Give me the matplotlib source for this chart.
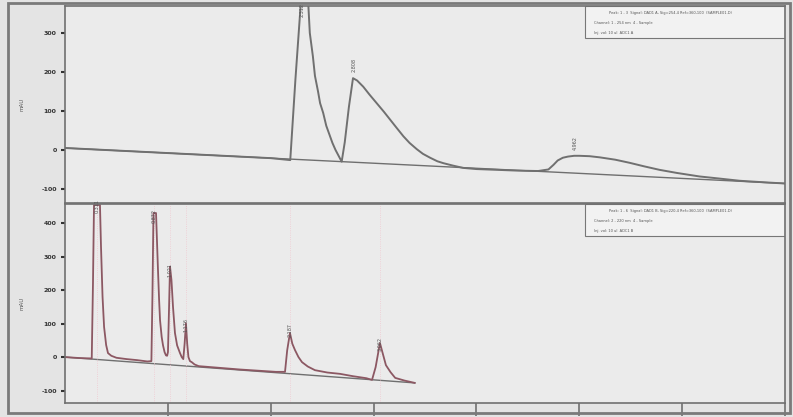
import matplotlib
matplotlib.use("Agg")
import matplotlib.pyplot as plt
from matplotlib.patches import Rectangle

# upper detector trace (time min, signal)
top_t = [0.0, 1.0, 2.0, 2.19, 2.24, 2.29, 2.33, 2.36, 2.38, 2.41, 2.43, 2.46, 2.48, 2.51,
         2.54, 2.57, 2.6, 2.63, 2.66, 2.69, 2.72, 2.76, 2.8, 2.84, 2.9, 2.96, 3.03,
         3.1, 3.16, 3.22, 3.29, 3.35, 3.42, 3.48, 3.55, 3.62, 3.68, 3.77, 3.87, 4.0,
         4.2, 4.4, 4.6, 4.7, 4.75, 4.79, 4.84, 4.89, 4.95, 5.0, 5.1, 5.2, 5.35, 5.49,
         5.63, 5.78, 5.95, 6.17, 6.35, 6.56, 6.8, 7.0]
top_y = [5, -8, -21, -26, 180, 367, 420, 400, 300, 240, 190, 150, 120, 95,
         62, 40, 18, 0, -15, -30, 20, 110, 184, 178, 162, 142, 120,
         98, 78, 58, 35, 18, 2, -10, -20, -29, -34, -40, -46, -49,
         -51, -53, -54, -50, -38, -27, -20, -17, -15, -15, -16, -19, -25, -33,
         -42, -51, -59, -68, -73, -79, -83, -86]
top_base_t = [0.0, 7.0]
top_base_y = [5, -86]
top_peaks = [2.31, 2.81, 4.96]
top_peak_lbl = ["2.312", "2.808", "4.962"]
top_peak_y = [340, 200, 0]

# lower detector trace
bot_t = [0.0, 0.15, 0.26, 0.272, 0.282, 0.34, 0.35, 0.365, 0.38, 0.4, 0.418, 0.45, 0.5,
         0.6, 0.7, 0.8, 0.84, 0.85, 0.86, 0.885, 0.895, 0.904, 0.915, 0.924, 0.94,
         0.953, 0.968, 0.982, 0.993, 1.001, 1.011, 1.021, 1.035, 1.05, 1.069, 1.09, 1.118,
         1.135, 1.15, 1.163, 1.176, 1.188, 1.2, 1.215, 1.232, 1.26, 1.3, 1.5, 1.7, 1.9,
         2.05, 2.139, 2.16, 2.187, 2.21, 2.236, 2.27, 2.304, 2.36, 2.43, 2.55, 2.674,
         2.8, 2.93, 2.985, 3.02, 3.062, 3.09, 3.12, 3.165, 3.21, 3.3, 3.4]
bot_y = [0, -3, -4, 220, 454, 454, 330, 180, 90, 36, 12, 4, -2,
         -6, -9, -13, -12, 180, 430, 430, 340, 260, 170, 110, 60,
         35, 15, 5, 4, 15, 140, 270, 230, 150, 72, 35, 12,
         0, -6, 40, 101, 40, 0, -12, -15, -22, -27, -32, -37, -41,
         -44, -44, 20, 72, 40, 21, 0, -15, -28, -39, -46, -50,
         -57, -63, -68, -30, 42, 10, -24, -45, -62, -70, -77]
bot_base_t = [0.0, 3.4]
bot_base_y = [0, -77]
bot_peaks = [0.31, 0.87, 1.02, 1.18, 2.19, 3.06]
bot_peak_lbl = ["0.311", "0.872", "1.021", "1.176", "2.187", "3.062"]
bot_peak_y = [430, 400, 240, 75, 60, 18]

top_ticks = [-100, 0, 100, 200, 300]
bot_ticks = [-100, 0, 100, 200, 300, 400]
x_ticks = [1, 2, 3, 4, 5, 6, 7]

top_info = ["Peak: 1 - 3  Signal: DAD1 A, Sig=254,4 Ref=360,100  (SAMPLE01.D)",
            "Channel: 1 - 254 nm  4 - Sample",
            "Inj. vol: 10 ul  ADC1 A"]
bot_info = ["Peak: 1 - 6  Signal: DAD1 B, Sig=220,4 Ref=360,100  (SAMPLE01.D)",
            "Channel: 2 - 220 nm  4 - Sample",
            "Inj. vol: 10 ul  ADC1 B"]

W, H = 793, 417
fig = plt.figure(figsize=(W / 100, H / 100), dpi=100)
fig.patch.set_facecolor("#e4e4e4")
fig.patches.append(Rectangle((8 / W, 4 / H), 782 / W, 410 / H, transform=fig.transFigure,
                             fill=False, edgecolor="#7a7a7a", lw=2))

bg = "#ebebeb"
ax1 = fig.add_axes([65 / W, (H - 203) / H, 720 / W, 197 / H])
ax2 = fig.add_axes([65 / W, (H - 403) / H, 720 / W, 199 / H])

for ax in (ax1, ax2):
    ax.set_facecolor(bg)
    for s in ax.spines.values():
        s.set_color("#707070")
        s.set_linewidth(1.2)
    ax.set_xlim(0, 7.0)
    ax.tick_params(axis="y", labelsize=4.5, colors="#333333", length=3, width=1.5, pad=3)
    for lab in ax.get_yticklabels():
        lab.set_fontweight("bold")

ax1.plot(top_base_t, top_base_y, color="#6f6f6f", lw=1.0)
ax1.plot(top_t, top_y, color="#707070", lw=1.4)
ax1.set_ylim(-136, 369)
ax1.set_yticks(top_ticks)
ax1.set_yticklabels([str(v) for v in top_ticks], fontweight="bold")
ax1.set_xticks([])
ax1.set_ylabel("mAU", fontsize=4, color="#555555", labelpad=12)
for t, lbl, y in zip(top_peaks, top_peak_lbl, top_peak_y):
    ax1.text(t, y, lbl, rotation=90, fontsize=3.5, ha="center", va="bottom", color="#555555")

ax2.plot(bot_base_t, bot_base_y, color="#6f6f6f", lw=1.0)
for t in bot_peaks:
    ax2.axvline(t, color="#f0c8d0", lw=0.6, ls=":")
ax2.plot(bot_t, bot_y, color="#8c5863", lw=1.3)
ax2.set_ylim(-137, 457)
ax2.set_yticks(bot_ticks)
ax2.set_yticklabels([str(v) for v in bot_ticks], fontweight="bold")
ax2.set_xticks(x_ticks)
ax2.set_xticklabels([])
ax2.tick_params(axis="x", direction="out", length=9, width=1.2, colors="#707070")
ax2.set_ylabel("mAU", fontsize=4, color="#555555", labelpad=12)
for t, lbl, y in zip(bot_peaks, bot_peak_lbl, bot_peak_y):
    ax2.text(t, y, lbl, rotation=90, fontsize=3.5, ha="center", va="bottom", color="#555555")

# info boxes in upper right corners
for ax, lines in ((ax1, top_info), (ax2, bot_info)):
    ax.add_patch(Rectangle((0.722, 0.84), 0.278, 0.16, transform=ax.transAxes,
                           facecolor="#f2f2f2", edgecolor="#777777", lw=0.8))
    for i, ln in enumerate(lines):
        ax.text(0.735 + (0.02 if i == 0 else 0), 0.965 - i * 0.05, ln, transform=ax.transAxes,
                fontsize=2.6, color="#555555", va="center")

fig.savefig("out.png", dpi=100, facecolor=fig.get_facecolor())
